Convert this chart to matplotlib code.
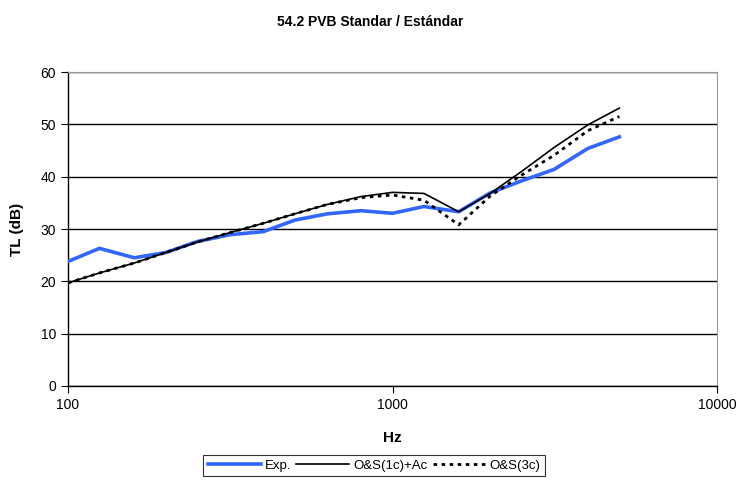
import matplotlib.pyplot as plt
from matplotlib.ticker import FixedLocator, NullLocator

# Third-octave bands (Hz)
freqs = [100, 125, 160, 200, 250, 315, 400, 500, 630, 800,
         1000, 1250, 1600, 2000, 2500, 3150, 4000, 5000]

tl_exp = [23.8, 26.3, 24.5, 25.5, 27.6, 28.9, 29.5, 31.7, 32.9, 33.5,
          33.0, 34.3, 33.3, 36.9, 39.2, 41.4, 45.4, 47.6]
tl_1c_ac = [19.7, 21.6, 23.5, 25.5, 27.5, 29.3, 31.1, 32.9, 34.7, 36.2,
            37.0, 36.8, 33.3, 36.8, 41.0, 45.6, 49.9, 53.1]
tl_3c = [19.7, 21.6, 23.5, 25.5, 27.5, 29.3, 31.1, 32.9, 34.7, 36.0,
         36.5, 35.5, 30.8, 36.3, 40.3, 44.1, 48.8, 51.5]

plt.rcParams['font.family'] = ['Liberation Sans Narrow', 'Liberation Sans', 'DejaVu Sans']

fig = plt.figure(figsize=(7.41, 4.96), dpi=100)
ax = fig.add_axes([0.0918, 0.2218, 0.8758, 0.633])

ax.plot(freqs, tl_exp, color='#3366ff', lw=2.6, label='Exp.', zorder=3)
ax.plot(freqs, tl_1c_ac, color='black', lw=1.2, label='O&S(1c)+Ac', zorder=4)
ax.plot(freqs, tl_3c, color='black', lw=2.0, ls=(0, (1.3, 1.6)), label='O&S(3c)', zorder=4)

ax.set_xscale('log')
ax.set_xlim(100, 10000)
ax.set_ylim(0, 60)
ax.xaxis.set_major_locator(FixedLocator([100, 1000, 10000]))
ax.xaxis.set_minor_locator(NullLocator())
ax.set_xticklabels(['100', '1000', '10000'])
ax.set_yticks(range(0, 61, 10))
ax.yaxis.grid(True, color='black', lw=1.0)
ax.set_axisbelow(True)

ax.spines['top'].set_color('#999999')
ax.spines['right'].set_color('#999999')
ax.spines['left'].set_linewidth(1.0)
ax.spines['bottom'].set_linewidth(1.0)
ax.tick_params(direction='out', length=5, labelsize=10)

ax.set_xlabel('Hz', fontsize=11, fontweight='bold', labelpad=14)
ax.set_ylabel('TL (dB)', fontsize=11, fontweight='bold', labelpad=12)
fig.suptitle('54.2 PVB Standar / Estándar', y=0.97, fontsize=10, fontweight='bold')

leg = fig.legend(loc='center', bbox_to_anchor=(0.505, 0.061), ncol=3, frameon=True,
                 fancybox=False, edgecolor='black', fontsize=9.5, handlelength=4.0,
                 handletextpad=0.3, columnspacing=0.4, borderpad=0.35)
leg.get_frame().set_linewidth(0.8)

fig.savefig('out.png', dpi=100)
